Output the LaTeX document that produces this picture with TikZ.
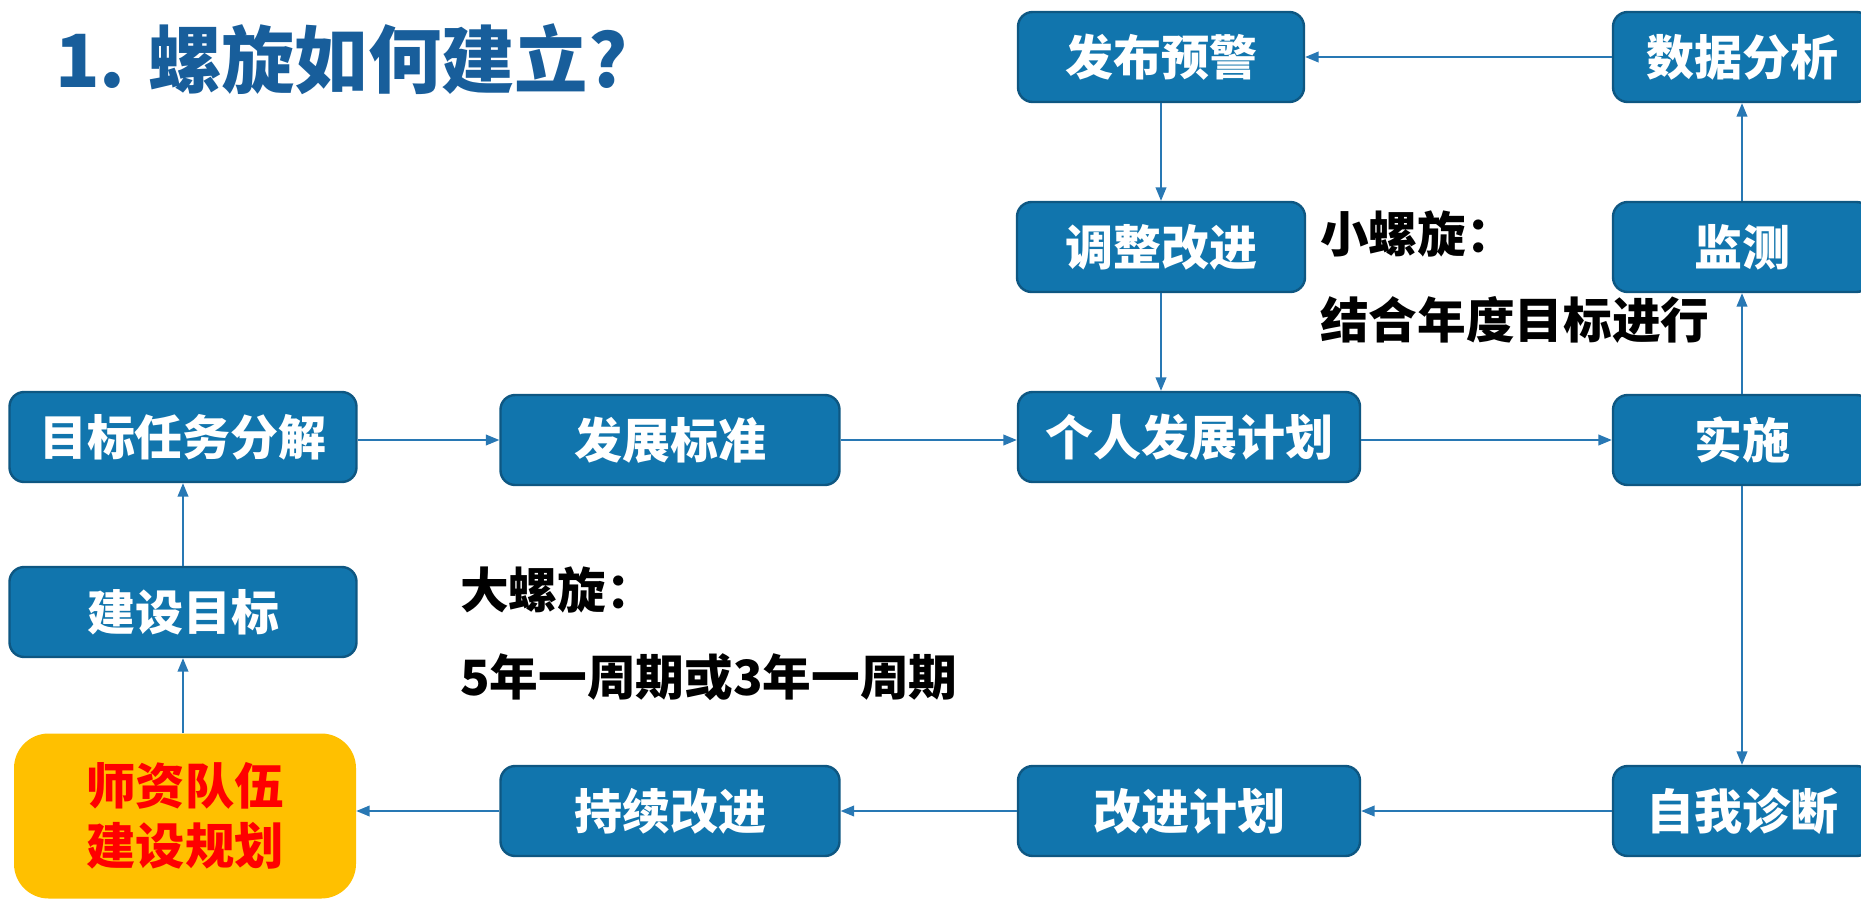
\documentclass[tikz,border=0pt]{standalone}
\usepackage{fontspec}
\setmainfont{Noto Sans CJK SC}
\usetikzlibrary{arrows.meta}
\definecolor{boxblue}{RGB}{17,117,173}
\definecolor{boxedge}{RGB}{14,87,130}
\definecolor{titleblue}{RGB}{24,94,155}
\definecolor{arrowblue}{RGB}{40,120,180}
\definecolor{gold}{RGB}{255,192,0}
\definecolor{redtext}{RGB}{255,0,0}
\begin{document}
\begin{tikzpicture}[x=0.75pt,y=-0.75pt,
  box/.style={draw=boxedge, line width=1.8pt, fill=boxblue, rounded corners=11pt,
    text=white, font=\fontsize{36}{40}\selectfont\bfseries, inner sep=0pt,
    minimum height=67.5pt},
  bw/.style={minimum width=#1*0.75pt},
  label/.style={anchor=west, inner sep=0pt, font=\fontsize{36.5}{40}\selectfont\bfseries, text=black},
  arr/.style={draw=arrowblue, line width=1.1pt, -{Triangle[length=10pt,width=8pt]}},
  plan/.style={fill=gold, rounded corners=26pt, text=redtext, inner sep=0pt,
    font=\fontsize{37}{45}\selectfont\bfseries, align=center}
]
\useasboundingbox (0,0) rectangle (1861,900);
\clip (0,0) rectangle (1861,900);

\node[anchor=west, inner sep=0pt, text=titleblue, font=\fontsize{55}{60}\selectfont\bfseries] (title) at (55,59) {1. 螺旋如何建立?};

% top right
\node[box, bw=286] (fabu) at (1161,57) {发布预警};
\node[box, bw=258] (shuju) at (1742,57) {数据分析};
\node[box, bw=288] (tiaozheng) at (1161,247) {调整改进};
\node[box, bw=258] (jiance) at (1742,247) {监测};

% middle row
\node[box, bw=347] (mubiao) at (183,437) {目标任务分解};
\node[box, bw=339] (fazhan) at (670,440) {发展标准};
\node[box, bw=342] (geren) at (1189,437) {个人发展计划};
\node[box, bw=258] (shishi) at (1742,440) {实施};

\node[box, bw=347] (jianshe) at (183,612) {建设目标};

% bottom row
\node[plan, minimum width=342*0.75pt, minimum height=165*0.75pt] (plan) at (185,816) {师资队伍\\建设规划};
\node[box, bw=339] (chixu) at (670,811) {持续改进};
\node[box, bw=342] (gaijin) at (1189,811) {改进计划};
\node[box, bw=258] (zhenduan) at (1742,811) {自我诊断};

% labels
\node[label] (small1) at (1320,234) {小螺旋：};
\node[label] (small2) at (1320,320) {结合年度目标进行};
\node[label] (big1) at (460,590) {大螺旋：};
\node[label] (big2) at (460,677) {5年一周期或3年一周期};

% arrows
\draw[arr] (shuju) -- (fabu);
\draw[arr] (fabu) -- (tiaozheng);
\draw[arr] (tiaozheng.south) -- (tiaozheng.south |- geren.north);
\draw[arr] (jiance) -- (shuju);
\draw[arr] (shishi) -- (jiance);
\draw[arr] (shishi) -- (zhenduan);
\draw[arr] (mubiao.east |- fazhan.west) -- (fazhan.west);
\draw[arr] (fazhan) -- (geren.west |- fazhan.east);
\draw[arr] (geren.east |- shishi.west) -- (shishi.west);
\draw[arr] (jianshe) -- (mubiao);
\draw[arr] (plan.north -| jianshe.south) -- (jianshe.south);
\draw[arr] (zhenduan) -- (gaijin);
\draw[arr] (gaijin) -- (chixu);
\draw[arr] (chixu.west) -- (plan.east |- chixu.west);
\end{tikzpicture}
\end{document}
